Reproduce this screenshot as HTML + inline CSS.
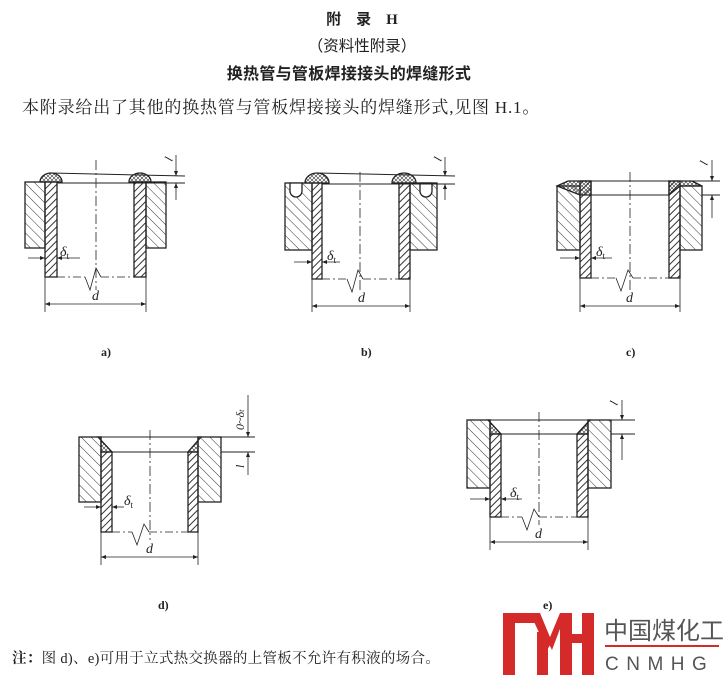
<!DOCTYPE html>
<html><head><meta charset="utf-8"><style>
body{margin:0;background:#fff;}
svg{display:block;}
.t{font-family:"Liberation Serif","Noto Serif CJK SC","Noto Sans CJK SC",serif;fill:#222;}
.s{font-family:"Liberation Sans","Noto Sans CJK SC",sans-serif;fill:#222;}
</style></head><body>
<svg width="724" height="682" viewBox="0 0 724 682" xmlns="http://www.w3.org/2000/svg">
<defs>
<pattern id="hp" width="7" height="7" patternUnits="userSpaceOnUse" patternTransform="rotate(-45)"><line x1="0" y1="0" x2="0" y2="7" stroke="#333" stroke-width="1"/></pattern>
<pattern id="ht" width="5" height="5" patternUnits="userSpaceOnUse" patternTransform="rotate(45)"><line x1="0.5" y1="0" x2="0.5" y2="5" stroke="#333" stroke-width="1"/></pattern>
<pattern id="hx" width="4" height="4" patternUnits="userSpaceOnUse"><path d="M0 0L4 4M4 0L0 4" stroke="#333" stroke-width="0.6"/></pattern>
<marker id="ar" viewBox="0 0 10 10" refX="10" refY="5" markerWidth="7" markerHeight="5" orient="auto-start-reverse" markerUnits="userSpaceOnUse"><path d="M0 1L10 5L0 9z" fill="#222"/></marker>
</defs>
<rect width="724" height="682" fill="#fff"/>

<text x="362" y="24" text-anchor="middle" class="s" font-size="15" font-weight="bold">附　录　<tspan font-family="Liberation Serif">H</tspan></text>
<text x="362" y="51" text-anchor="middle" class="s" font-size="15.5">（资料性附录）</text>
<text x="349" y="79" text-anchor="middle" class="s" font-size="16" font-weight="bold" letter-spacing="0.3">换热管与管板焊接接头的焊缝形式</text>
<text x="22" y="113" class="t" font-size="17" letter-spacing="0.8">本附录给出了其他的换热管与管板焊接接头的焊缝形式,见图 H.1。</text>

<g stroke="#222" stroke-width="1.3" fill="none">
<!-- a -->
<rect x="25" y="182" width="20" height="66" fill="url(#hp)"/>
<rect x="146" y="182" width="20" height="66" fill="url(#hp)"/>
<rect x="45" y="182" width="12" height="95" fill="url(#ht)"/>
<rect x="134" y="182" width="12" height="95" fill="url(#ht)"/>
<path d="M40 182A11 9 0 0 1 62 182Z" fill="url(#hx)"/>
<path d="M129 182A11 9 0 0 1 151 182Z" fill="url(#hx)"/>
<path d="M51 173L185 176M57 183L185 183" stroke-width="1"/>
<path d="M96 160V290" stroke-width="0.8" stroke-dasharray="10 3 2 3"/>
<path d="M57 277H85" stroke-width="0.8" stroke-dasharray="8 3 2 3"/>
<path d="M85 277L90 290L96 268L101 277" stroke-width="0.8"/>
<path d="M101 277H134" stroke-width="0.8" stroke-dasharray="8 3 2 3"/>
<path d="M45 277V312M146 277V312" stroke-width="0.8"/>
<path d="M45 304H146" stroke-width="0.8" marker-start="url(#ar)" marker-end="url(#ar)"/>
<path d="M28 258H45" stroke-width="0.8" marker-end="url(#ar)"/>
<path d="M80 258H57" stroke-width="0.8" marker-end="url(#ar)"/>
<path d="M176 155V176" stroke-width="0.8" marker-end="url(#ar)"/>
<path d="M176 200V183" stroke-width="0.8" marker-end="url(#ar)"/>
<!-- b -->
<rect x="285" y="183" width="27" height="67" fill="url(#hp)"/>
<rect x="410" y="183" width="27" height="67" fill="url(#hp)"/>
<path d="M290 183V191A6 6 0 0 0 302 191V183Z" fill="#fff"/>
<path d="M420 183V191A6 6 0 0 0 432 191V183Z" fill="#fff"/>
<rect x="312" y="183" width="10" height="96" fill="url(#ht)"/>
<rect x="399" y="183" width="11" height="96" fill="url(#ht)"/>
<path d="M305 183A12 10 0 0 1 329 183Z" fill="url(#hx)"/>
<path d="M392 183A12 10 0 0 1 416 183Z" fill="url(#hx)"/>
<path d="M317 173L455 176M322 184L455 184" stroke-width="1"/>
<path d="M360 172V290" stroke-width="0.8" stroke-dasharray="10 3 2 3"/>
<path d="M322 279H347" stroke-width="0.8" stroke-dasharray="8 3 2 3"/>
<path d="M347 279L352 292L358 270L363 279" stroke-width="0.8"/>
<path d="M363 279H399" stroke-width="0.8" stroke-dasharray="8 3 2 3"/>
<path d="M312 279V312M410 279V312" stroke-width="0.8"/>
<path d="M312 306H410" stroke-width="0.8" marker-start="url(#ar)" marker-end="url(#ar)"/>
<path d="M294 262H312" stroke-width="0.8" marker-end="url(#ar)"/>
<path d="M340 262H322" stroke-width="0.8" marker-end="url(#ar)"/>
<path d="M445 157V176" stroke-width="0.8" marker-end="url(#ar)"/>
<path d="M445 200V184" stroke-width="0.8" marker-end="url(#ar)"/>
<!-- c -->
<rect x="557" y="186" width="23" height="64" fill="url(#hp)"/>
<rect x="680" y="186" width="22" height="64" fill="url(#hp)"/>
<rect x="580" y="181" width="11" height="97" fill="url(#ht)"/>
<rect x="669" y="181" width="11" height="97" fill="url(#ht)"/>
<path d="M557 186L568 181H591V195H580Z" fill="url(#hx)"/>
<path d="M669 195V181H692L702 186H680Z" fill="url(#hx)"/>
<path d="M591 181H720M591 195H669M702 195H720" stroke-width="1"/>
<path d="M630 172V290" stroke-width="0.8" stroke-dasharray="10 3 2 3"/>
<path d="M591 278H616" stroke-width="0.8" stroke-dasharray="8 3 2 3"/>
<path d="M616 278L621 291L628 270L633 278" stroke-width="0.8"/>
<path d="M633 278H669" stroke-width="0.8" stroke-dasharray="8 3 2 3"/>
<path d="M580 278V312M680 278V312" stroke-width="0.8"/>
<path d="M580 306H680" stroke-width="0.8" marker-start="url(#ar)" marker-end="url(#ar)"/>
<path d="M560 258H580" stroke-width="0.8" marker-end="url(#ar)"/>
<path d="M612 258H591" stroke-width="0.8" marker-end="url(#ar)"/>
<path d="M712 160V181" stroke-width="0.8" marker-end="url(#ar)"/>
<path d="M712 218V195" stroke-width="0.8" marker-end="url(#ar)"/>
<!-- d -->
<rect x="79" y="437" width="22" height="65" fill="url(#hp)"/>
<rect x="198" y="437" width="23" height="65" fill="url(#hp)"/>
<rect x="101" y="452" width="11" height="80" fill="url(#ht)"/>
<rect x="188" y="452" width="10" height="80" fill="url(#ht)"/>
<path d="M98 437H101V452H112Z" fill="url(#hx)"/>
<path d="M201 437H198V452H188Z" fill="url(#hx)"/>
<path d="M79 437H255M112 452H188M221 452H255" stroke-width="1"/>
<path d="M150 430V540" stroke-width="0.8" stroke-dasharray="10 3 2 3"/>
<path d="M112 532H132" stroke-width="0.8" stroke-dasharray="8 3 2 3"/>
<path d="M132 532L137 545L144 524L149 532" stroke-width="0.8"/>
<path d="M149 532H188" stroke-width="0.8" stroke-dasharray="8 3 2 3"/>
<path d="M101 532V565M198 532V565" stroke-width="0.8"/>
<path d="M101 557H198" stroke-width="0.8" marker-start="url(#ar)" marker-end="url(#ar)"/>
<path d="M84 507H101" stroke-width="0.8" marker-end="url(#ar)"/>
<path d="M124 507H112" stroke-width="0.8" marker-end="url(#ar)"/>
<path d="M248 395V437" stroke-width="0.8" marker-end="url(#ar)"/>
<path d="M248 475V452" stroke-width="0.8" marker-end="url(#ar)"/>
<!-- e -->
<rect x="467" y="420" width="23" height="68" fill="url(#hp)"/>
<rect x="588" y="420" width="23" height="68" fill="url(#hp)"/>
<rect x="490" y="434" width="11" height="83" fill="url(#ht)"/>
<rect x="577" y="434" width="11" height="83" fill="url(#ht)"/>
<path d="M488 420H490V434H501Z" fill="url(#hx)"/>
<path d="M590 420H588V434H577Z" fill="url(#hx)"/>
<path d="M467 420H635M501 434H577M611 434H635" stroke-width="1"/>
<path d="M539 412V525" stroke-width="0.8" stroke-dasharray="10 3 2 3"/>
<path d="M501 517H522" stroke-width="0.8" stroke-dasharray="8 3 2 3"/>
<path d="M522 517L527 530L534 509L539 517" stroke-width="0.8"/>
<path d="M539 517H577" stroke-width="0.8" stroke-dasharray="8 3 2 3"/>
<path d="M490 517V550M588 517V550" stroke-width="0.8"/>
<path d="M490 542H588" stroke-width="0.8" marker-start="url(#ar)" marker-end="url(#ar)"/>
<path d="M470 499H490" stroke-width="0.8" marker-end="url(#ar)"/>
<path d="M522 499H501" stroke-width="0.8" marker-end="url(#ar)"/>
<path d="M622 400V420" stroke-width="0.8" marker-end="url(#ar)"/>
<path d="M622 460V434" stroke-width="0.8" marker-end="url(#ar)"/>
</g>

<g class="t" font-style="italic" font-size="14">
<text x="92" y="300">d</text><text x="358" y="302">d</text><text x="626" y="302">d</text><text x="146" y="553">d</text><text x="535" y="538">d</text>
<text x="60" y="256">δ<tspan font-size="9" font-style="normal" dy="3">t</tspan></text>
<text x="327" y="260">δ<tspan font-size="9" font-style="normal" dy="3">t</tspan></text>
<text x="596" y="256">δ<tspan font-size="9" font-style="normal" dy="3">t</tspan></text>
<text x="124" y="505">δ<tspan font-size="9" font-style="normal" dy="3">t</tspan></text>
<text x="510" y="497">δ<tspan font-size="9" font-style="normal" dy="3">t</tspan></text>
<text x="172" y="162" transform="rotate(-70 172 162)" font-size="12">l</text>
<text x="441" y="162" transform="rotate(-70 441 162)" font-size="12">l</text>
<text x="707" y="166" transform="rotate(-70 707 166)" font-size="12">l</text>
<text x="617" y="406" transform="rotate(-70 617 406)" font-size="12">l</text>
<text x="244" y="468" transform="rotate(-90 244 468)" font-size="12">l</text>
<text x="244" y="430" transform="rotate(-90 244 430)" font-size="12">0~δ<tspan font-size="8">t</tspan></text>
</g>
<g class="t" font-size="12" font-weight="bold">
<text x="101" y="356">a)</text><text x="361" y="356">b)</text><text x="626" y="356">c)</text>
<text x="158" y="609">d)</text><text x="543" y="609">e)</text>
</g>
<text x="12" y="663" class="t" font-size="14.5" letter-spacing="0.3"><tspan font-weight="bold">注：</tspan>图 d)、e)可用于立式热交换器的上管板不允许有积液的场合。</text>

<g fill="#d42a2a">
<rect x="503" y="613" width="12" height="62"/>
<rect x="503" y="613" width="33" height="10"/>
<polygon points="530,613 540,613 552,642 547,650"/>
<rect x="537" y="632" width="11" height="43"/>
<polygon points="548,642 560,613 566,613 552,650"/>
<rect x="560" y="613" width="12" height="62"/>
<rect x="582" y="613" width="12" height="62"/>
<rect x="560" y="634" width="34" height="9"/>
</g>
<text x="604" y="639" class="s" font-size="24" style="fill:#555">中国煤化工</text>
<rect x="605" y="645" width="114" height="2" fill="#d42a2a"/>
<text x="605" y="670" class="s" font-size="19" letter-spacing="7.5" style="fill:#555">CNMHG</text>
</svg>
</body></html>
